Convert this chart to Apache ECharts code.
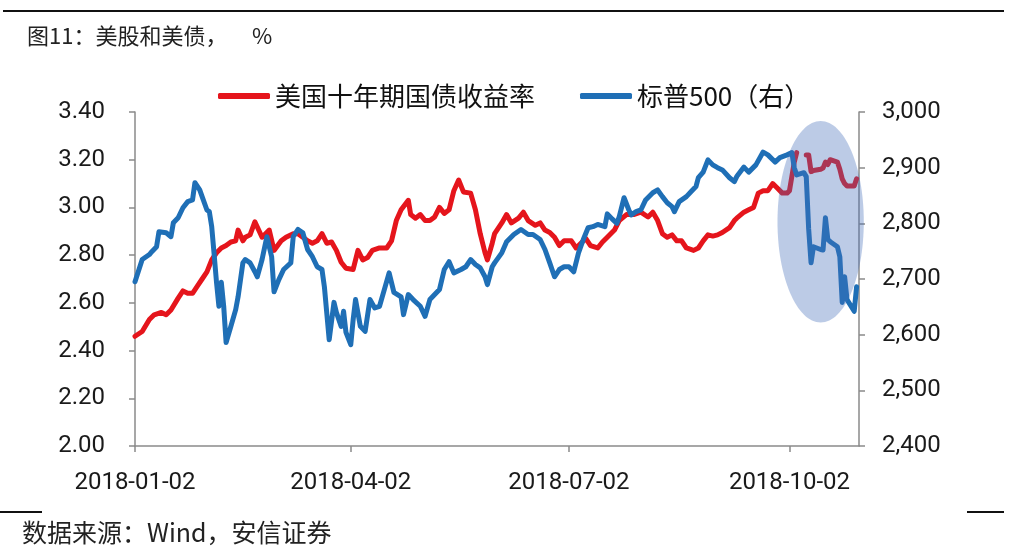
<!DOCTYPE html>
<html><head><meta charset="utf-8">
<script src="https://cdn.jsdelivr.net/npm/echarts@6/dist/echarts.min.js"></script>
<style>html,body{margin:0;padding:0;background:#fff}#c{width:1016px;height:560px}</style>
</head><body><div id="c"></div>
<script>
const YEAR = '2018-';
const startDate = '2018-01-02';
const endDate = '2018-10-31';
const xLabelDates = ['2018-01-02', '2018-04-02', '2018-07-02', '2018-10-02'];
const seriesNames = ['美国十年期国债收益率', '标普500（右）'];

// 10Y US Treasury yield, %
const yieldDates = ['01-02','01-05','01-08','01-10','01-13','01-15','01-17','01-20','01-22','01-24','01-26','01-28','01-30',
'02-01','02-03','02-05','02-07','02-09','02-11','02-13','02-14','02-16','02-17','02-19','02-21','02-24','02-27',
'03-01','03-04','03-06','03-09','03-11','03-13','03-15','03-17','03-19','03-21','03-23','03-25','03-27','03-29','03-31',
'04-03','04-05','04-07','04-09','04-11','04-14','04-17','04-19','04-21','04-23','04-26','04-27','04-29',
'05-01','05-03','05-05','05-07','05-09','05-11','05-13','05-15','05-17','05-19','05-22','05-24','05-26','05-28','05-29','05-31',
'06-01','06-04','06-06','06-08','06-11','06-13','06-15','06-18','06-20','06-22','06-24','06-26','06-28','06-30',
'07-03','07-05','07-07','07-09','07-11','07-14','07-16','07-18','07-21','07-23','07-26','07-29',
'08-01','08-04','08-06','08-08','08-10','08-12','08-14','08-16','08-18','08-20','08-23','08-25','08-27','08-29','08-31',
'09-02','09-04','09-07','09-09','09-10','09-13','09-15','09-17','09-19','09-21','09-23','09-25','09-27','09-29',
'10-01','10-02','10-03','10-04','10-05','10-08','10-09','10-10','10-11','10-12','10-15','10-16','10-17','10-18','10-19',
'10-22','10-23','10-24','10-25','10-26','10-29','10-30'];
const yieldValues = [2.46,2.48,2.53,2.55,2.56,2.55,2.57,2.62,2.65,2.64,2.64,2.67,2.70,
2.73,2.78,2.81,2.83,2.84,2.855,2.86,2.905,2.86,2.875,2.885,2.94,2.875,2.905,
2.82,2.86,2.875,2.89,2.89,2.875,2.86,2.85,2.86,2.89,2.85,2.855,2.82,2.77,2.745,
2.74,2.82,2.78,2.79,2.82,2.83,2.83,2.86,2.945,2.99,3.03,2.97,2.955,
2.97,2.945,2.945,2.96,3.00,2.975,2.99,3.07,3.115,3.065,3.06,2.99,2.89,2.81,2.78,2.85,
2.89,2.935,2.97,2.935,2.955,2.98,2.945,2.925,2.935,2.905,2.895,2.875,2.84,2.86,
2.86,2.83,2.85,2.87,2.84,2.83,2.855,2.875,2.905,2.945,2.97,2.97,
2.98,2.96,2.98,2.945,2.89,2.875,2.885,2.86,2.86,2.83,2.82,2.83,2.86,2.885,2.88,
2.885,2.895,2.915,2.945,2.955,2.98,2.99,3.00,3.06,3.07,3.07,3.10,3.08,3.06,
3.06,3.07,3.13,3.19,3.23,null,3.22,3.22,3.15,3.155,3.16,3.165,3.19,3.18,3.20,
3.19,3.16,3.12,3.10,3.09,3.09,3.12];

// S&P 500 index (right axis)
const spxDates = ['01-02','01-05','01-08','01-09','01-11','01-12','01-15','01-17','01-18','01-20','01-22','01-24','01-26','01-27','01-29','01-30',
'02-01','02-02','02-03','02-04','02-05','02-06','02-07','02-08','02-09','02-11','02-13','02-14','02-16','02-17','02-19','02-21','02-22','02-24','02-26','02-28',
'03-01','03-03','03-05','03-08','03-09','03-11','03-13','03-15','03-17','03-19','03-21','03-22','03-24','03-26','03-27','03-29','03-30','03-31',
'04-02','04-03','04-04','04-06','04-08','04-10','04-12','04-14','04-16','04-18','04-20','04-23','04-24','04-26','04-28',
'05-01','05-03','05-05','05-07','05-09','05-11','05-13','05-15','05-18','05-20','05-22','05-24','05-26','05-28','05-29','05-31',
'06-01','06-04','06-06','06-09','06-12','06-15','06-17','06-20','06-22','06-24','06-26','06-28','06-30',
'07-02','07-04','07-06','07-08','07-10','07-12','07-14','07-17','07-18','07-20','07-22','07-23','07-25','07-27','07-28','07-30',
'08-01','08-03','08-06','08-08','08-10','08-12','08-14','08-15','08-17','08-20','08-22','08-24','08-25','08-27','08-29','08-31',
'09-02','09-04','09-07','09-09','09-10','09-13','09-15','09-18','09-21','09-23','09-26','09-28',
'10-01','10-03','10-04','10-05','10-08','10-09','10-10','10-11','10-12','10-15','10-16','10-17','10-18','10-19',
'10-22','10-23','10-24','10-25','10-26','10-29','10-30'];
const spxValues = [2695,2735,2744,2749,2758,2785,2783,2776,2801,2810,2828,2839,2842,2873,2860,2848,
2824,2821,2794,2745,2694,2651,2694,2651,2586,2615,2645,2668,2729,2735,2729,2713,2704,2735,2776,2740,
2677,2699,2717,2729,2776,2789,2783,2753,2740,2722,2717,2686,2591,2658,2640,2615,2642,2604,
2582,2627,2663,2615,2606,2663,2648,2651,2681,2711,2676,2668,2636,2672,2663,
2651,2633,2663,2672,2681,2717,2731,2711,2717,2722,2735,2726,2720,2704,2690,2722,
2729,2747,2767,2780,2789,2780,2780,2771,2753,2729,2704,2717,2722,
2722,2713,2747,2771,2792,2794,2798,2794,2817,2808,2800,2812,2846,2824,2815,2821,
2824,2842,2855,2860,2848,2837,2830,2821,2839,2848,2857,2866,2882,2892,2914,2905,
2900,2896,2882,2875,2884,2901,2892,2905,2928,2923,2910,2918,
2923,2927,2900,2887,2891,2884,2790,2729,2758,2753,2752,2810,2771,2767,
2758,2740,2658,2704,2663,2642,2686];

// highlight ellipse annotation (in data units)
const ellipseCenterDate = '2018-10-15';
const ellipseEdgeDate = '2018-09-27';
const ellipseTopValue = 2984;
const ellipseBottomValue = 2622;

const categories = [];
for (let t = Date.parse(startDate + 'T00:00:00Z'); t <= Date.parse(endDate + 'T00:00:00Z'); t += 86400000) {
  categories.push(new Date(t).toISOString().slice(0, 10));
}

const FONT = 'Roboto, "Noto Sans", sans-serif';
const CJK = '"Noto Sans CJK SC", sans-serif';
const axisColor = '#8a8a8a';
const showLabel = (i, v) => xLabelDates.indexOf(v) >= 0;

const chart = echarts.init(document.getElementById('c'), null, { renderer: 'canvas' });
chart.setOption({
  animation: false,
  backgroundColor: '#ffffff',
  title: {
    text: '图11：美股和美债，     %',
    left: 22, top: 20,
    textStyle: { fontFamily: CJK, fontSize: 22, fontWeight: 'normal', color: '#222' }
  },
  legend: {
    left: 213, top: 78,
    itemWidth: 52, itemHeight: 6, itemGap: 45,
    icon: 'roundRect',
    textStyle: { fontFamily: CJK, fontSize: 26, color: '#111' },
    data: seriesNames
  },
  grid: { left: 135, right: 157, top: 112, bottom: 114 },
  xAxis: {
    type: 'category',
    data: categories,
    boundaryGap: false,
    axisLine: { lineStyle: { color: axisColor, width: 1.5 } },
    axisTick: { show: true, interval: showLabel, length: 6, lineStyle: { color: axisColor, width: 1.5 } },
    axisLabel: { interval: showLabel, margin: 25, fontFamily: FONT, fontSize: 24, color: '#1a1a1a' },
    splitLine: { show: false }
  },
  yAxis: [{
    type: 'value', position: 'left', min: 2, max: 3.4, interval: 0.2,
    axisLine: { show: true, lineStyle: { color: axisColor, width: 1.5 } },
    axisTick: { show: true, length: 6, lineStyle: { color: axisColor, width: 1.5 } },
    axisLabel: { margin: 30, fontFamily: FONT, fontSize: 24, color: '#1a1a1a', formatter: v => v.toFixed(2) },
    splitLine: { show: false }
  }, {
    type: 'value', position: 'right', min: 2400, max: 3000, interval: 100,
    axisLine: { show: true, lineStyle: { color: axisColor, width: 1.5 } },
    axisTick: { show: true, length: 6, lineStyle: { color: axisColor, width: 1.5 } },
    axisLabel: { margin: 23, fontFamily: FONT, fontSize: 24, color: '#1a1a1a',
      formatter: v => v.toLocaleString('en-US') },
    splitLine: { show: false }
  }],
  series: [{
    name: seriesNames[0], type: 'line', yAxisIndex: 0,
    data: yieldDates.map((d, i) => [YEAR + d, yieldValues[i]]),
    showSymbol: false, symbol: 'none', connectNulls: false,
    itemStyle: { color: '#e5151c' },
    lineStyle: { color: '#e5151c', width: 5, cap: 'round', join: 'round' },
    z: 2
  }, {
    name: seriesNames[1], type: 'line', yAxisIndex: 1,
    data: spxDates.map((d, i) => [YEAR + d, spxValues[i]]),
    showSymbol: false, symbol: 'none',
    itemStyle: { color: '#1f6fb6' },
    lineStyle: { color: '#1f6fb6', width: 5, cap: 'round', join: 'round' },
    z: 3
  }]
});

const ci = categories.indexOf(ellipseCenterDate);
const ei = categories.indexOf(ellipseEdgeDate);
const pC = chart.convertToPixel({ xAxisIndex: 0, yAxisIndex: 1 }, [ci, (ellipseTopValue + ellipseBottomValue) / 2]);
const pE = chart.convertToPixel({ xAxisIndex: 0, yAxisIndex: 1 }, [ei, ellipseTopValue]);
const rx = Math.abs(pC[0] - pE[0]);
const ry = Math.abs(pC[1] - pE[1]);

chart.setOption({
  graphic: [
    { type: 'line', silent: true, z: 10, shape: { x1: 3, y1: 11, x2: 1004, y2: 11 }, style: { stroke: '#111', lineWidth: 2 } },
    { type: 'line', silent: true, z: 10, shape: { x1: 0, y1: 512, x2: 42, y2: 512 }, style: { stroke: '#111', lineWidth: 2 } },
    { type: 'line', silent: true, z: 10, shape: { x1: 967, y1: 512, x2: 1004, y2: 512 }, style: { stroke: '#111', lineWidth: 2 } },
    { type: 'text', silent: true, z: 10, left: 22, top: 520,
      style: { text: '数据来源：Wind，安信证券', fontFamily: CJK, fontSize: 25, fill: '#222' } },
    { type: 'ellipse', silent: true, z: 50,
      shape: { cx: pC[0], cy: pC[1], rx: rx, ry: ry },
      style: { fill: 'rgba(70,110,185,0.36)' } }
  ]
});
</script></body></html>
